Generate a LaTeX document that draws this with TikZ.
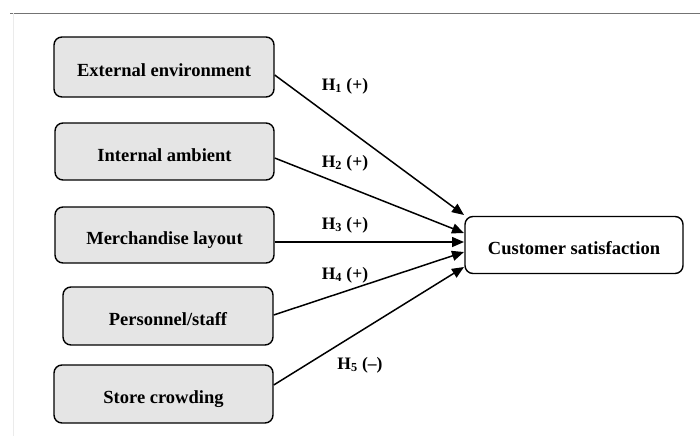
\documentclass[tikz,border=0pt]{standalone}
\usepackage{fontspec}
\setmainfont{Liberation Serif}
\usetikzlibrary{arrows.meta}
\begin{document}
\begin{tikzpicture}[x=1pt,y=-1pt,
  boxfont/.style={font=\fontsize{18.5}{22}\selectfont\bfseries,inner sep=0pt,text height=19pt,text depth=0pt},
  src/.style={draw=black,line width=1.4pt,rounded corners=8pt,fill=black!10,boxfont},
  tgt/.style={draw=black,line width=1.4pt,rounded corners=8pt,fill=white,boxfont},
  conn/.style={line width=1.5pt,-{Triangle[length=12pt,width=10pt]}},
  hlab/.style={font=\fontsize{17.5}{20}\selectfont\bfseries,inner sep=0pt}]
\useasboundingbox (0,0) rectangle (700,439);
\draw[black!55,line width=1pt] (10,13) -- (700,13);
\draw[black!8,line width=1pt] (13,13) -- (13,436);
\node[src,minimum width=220pt,minimum height=60pt] (e) at (164,67) {External environment};
\node[src,minimum width=219pt,minimum height=57pt] (i) at (164.5,151.5) {Internal ambient};
\node[src,minimum width=219pt,minimum height=56pt] (m) at (164.5,235) {Merchandise layout};
\node[src,minimum width=210pt,minimum height=58pt] (p) at (168,316) {Personnel/staff};
\node[src,minimum width=219pt,minimum height=58pt] (s) at (163.5,394) {Store crowding};
\node[tgt,minimum width=218pt,minimum height=57pt] (c) at (574,245) {Customer satisfaction};
\coordinate (c1) at (464,215);
\coordinate (c2) at (464,233);
\coordinate (c3) at (464,242);
\coordinate (c4) at (464,252);
\coordinate (c5) at (464,267);
\draw[conn] (e.east |- 0,75) -- (c1);
\draw[conn] (i.east |- 0,158) -- (c2);
\draw[conn] (m.east |- 0,242) -- (c3);
\draw[conn] (p.east |- 0,315) -- (c4);
\draw[conn] (s.east |- 0,385) -- (c5);
\node[hlab] (h1) at (345,86) {H\textsubscript{1} (+)};
\node[hlab] (h2) at (345,163) {H\textsubscript{2} (+)};
\node[hlab] (h3) at (345,225) {H\textsubscript{3} (+)};
\node[hlab] (h4) at (345,275) {H\textsubscript{4} (+)};
\node[hlab] (h5) at (360,365) {H\textsubscript{5} (–)};
\end{tikzpicture}
\end{document}
